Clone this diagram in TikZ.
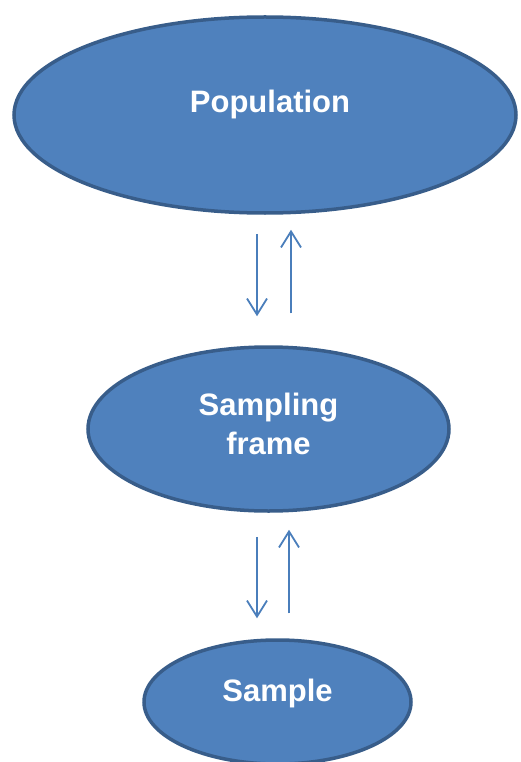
\documentclass[tikz,border=0pt]{standalone}
\usepackage{fontspec}
\setmainfont{Liberation Sans}
\usetikzlibrary{shapes.geometric,arrows.meta}
\definecolor{ovalfill}{HTML}{4F81BD}
\definecolor{ovalline}{HTML}{385D8A}
\definecolor{arrowblue}{HTML}{4A7EBB}

\begin{document}
\begin{tikzpicture}[x=1pt,y=-1pt,
		oval/.style={ellipse, draw=ovalline, line width=3.5pt, fill=ovalfill, inner sep=0pt},
		txt/.style={text=white, font=\fontsize{31}{39}\selectfont\bfseries, align=center},
		flow/.style={draw=arrowblue, line width=1.8pt, -{Straight Barb[length=16pt,width=20pt]}}]
	\useasboundingbox (0,0) rectangle (520,762);
	
	% the three sets
	\node[oval, minimum width=502pt, minimum height=196pt,
		label={[txt,xshift=5pt,yshift=11pt]center:Population}] (pop) at (265,115) {};
	\node[oval, minimum width=361pt, minimum height=164pt,
		label={[txt,yshift=5pt]center:Sampling\\frame}] (frame) at (268.5,429) {};
	\node[oval, minimum width=267pt, minimum height=124pt,
		label={[txt,yshift=9pt]center:Sample}] (sample) at (277.5,702) {};
	
	% columns of the arrows
	\coordinate (down) at (257,0);
	\coordinate (upper) at (291,0);
	\coordinate (lower) at (289,0);
	
	% population <-> sampling frame
	\draw[flow, shorten <=19pt, shorten >=29pt] (pop.south -| down) -- (frame.north -| down);
	\draw[flow, shorten <=32pt, shorten >=15pt] (frame.north -| upper) -- (pop.south -| upper);
	
	% sampling frame <-> sample
	\draw[flow, shorten <=24pt, shorten >=20pt] (frame.south -| down) -- (sample.north -| down);
	\draw[flow, shorten <=25pt, shorten >=17pt] (sample.north -| lower) -- (frame.south -| lower);
\end{tikzpicture}
\end{document}
